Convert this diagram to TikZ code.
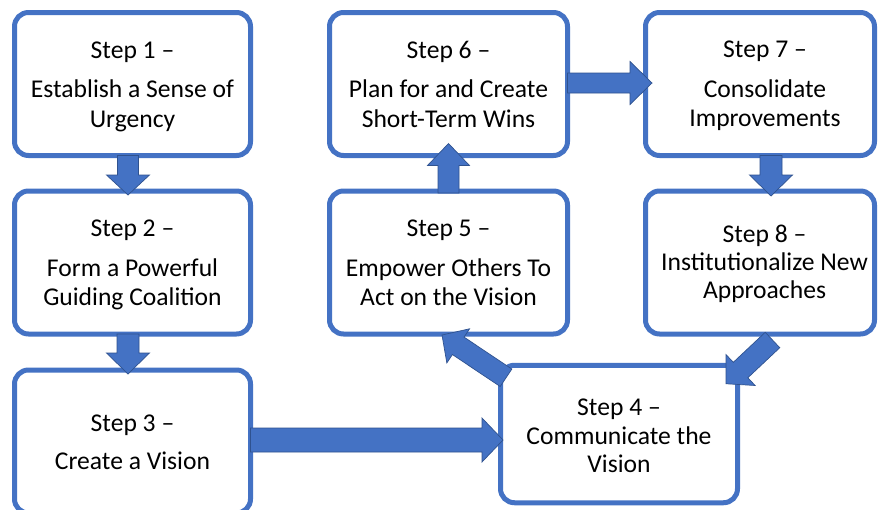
\documentclass[tikz,border=0pt]{standalone}
\usepackage{fontspec}
\setmainfont{Carlito}
\usetikzlibrary{calc}
\definecolor{stepblue}{HTML}{4472C4}
\definecolor{stepdark}{HTML}{2F528F}
\tikzset{
  stepbox/.style={draw=stepblue, line width=5pt, fill=white, rounded corners=14pt,
    inner sep=0pt, outer sep=0pt},
  steptext/.style={inner sep=0pt, outer sep=0pt, align=center,
    font=\fontsize{25.6}{29.5}\selectfont, text=black},
  blockarrow/.style={fill=stepblue, draw=stepdark, line width=0.7pt, line join=miter},
}
% #1 tail, #2 tip, #3 shaft half-width, #4 head half-width, #5 head length
\newcommand\blockarrow[5]{%
  \coordinate (ba-h) at ($(#2)!#5!(#1)$);
  \filldraw[blockarrow]
    ($(#1)!#3!90:(#2)$) -- ($(ba-h)!#3!90:(#2)$) -- ($(ba-h)!#4!90:(#2)$)
    -- (#2)
    -- ($(ba-h)!#4!-90:(#2)$) -- ($(ba-h)!#3!-90:(#2)$) -- ($(#1)!#3!-90:(#2)$) -- cycle;
}
\begin{document}
\begin{tikzpicture}[x=1pt,y=-1pt]
\clip (0,0) rectangle (878,509);
\fill[white] (0,0) rectangle (878,509);

% boxes
\node[stepbox, minimum width=236pt, minimum height=143pt] (b1) at (132.5,84) {};
\node[stepbox, minimum width=236pt, minimum height=143pt] (b2) at (132.5,262.5) {};
\node[stepbox, minimum width=236pt, minimum height=143pt] (b3) at (132.5,441.5) {};
\node[stepbox, minimum width=237pt, minimum height=137.5pt] (b4) at (619,434) {};
\node[stepbox, minimum width=238pt, minimum height=143pt] (b5) at (448.5,262.5) {};
\node[stepbox, minimum width=238pt, minimum height=143pt] (b6) at (448.5,84) {};
\node[stepbox, minimum width=229pt, minimum height=143pt] (b7) at (760,84) {};
\node[stepbox, minimum width=229pt, minimum height=143pt] (b8) at (760,262.5) {};

% texts
\node[steptext] (t1) at ($(b1.center)+(0,2.5)$) {Step 1 –\\[10pt]Establish a Sense of\\Urgency};
\node[steptext] (t2) at ($(b2.center)+(0,2.5)$) {Step 2 –\\[10pt]Form a Powerful\\Guiding Coalition};
\node[steptext] (t3) at ($(b3.center)+(0,1)$) {Step 3 –\\[9pt]Create a Vision};
\node[steptext] (t4) at ($(b4.center)+(0,2)$) {Step 4 –\\[-1pt]Communicate the\\[-1pt]Vision};
\node[steptext] (t5) at ($(b5.center)+(0,0.5)$) {Step 5 –\\[10pt]Empower Others To\\Act on the Vision};
\node[steptext] (t6) at ($(b6.center)+(0,0)$) {Step 6 –\\[10pt]Plan for and Create\\Short-Term Wins};
\node[steptext] (t7) at ($(b7.center)+(5,2)$) {Step 7 –\\[10pt]Consolidate\\Improvements};
\node[steptext] (t8) at ($(b8.center)+(4.5,1.5)$) {Step 8 –\\[-1.5pt]Institutionalize New\\[-1.5pt]Approaches};

% connector end points
\coordinate (a12t) at ($(b1.south)+(-4.5,0)$);
\coordinate (a12h) at ($(b2.north)+(-4.5,4)$);
\coordinate (a23t) at ($(b2.south)+(-4.5,0)$);
\coordinate (a23h) at ($(b3.north)+(-4.5,4)$);
\coordinate (a34t) at ($(b3.east)+(0,-1.5)$);
\coordinate (a34h) at ($(b4.west)+(2.5,6)$);
\coordinate (a45t) at ($(b4.north west)+(5.5,12.5)$);
\coordinate (a45h) at ($(b5.south)+(-6.5,1)$);
\coordinate (a56t) at ($(b5.north)+(0,2)$);
\coordinate (a56h) at ($(b6.south)+(0,-12)$);
\coordinate (a67t) at ($(b6.east)+(0,-1)$);
\coordinate (a67h) at ($(b7.west)+(6.5,-1)$);
\coordinate (a78t) at ($(b7.south)+(11,0)$);
\coordinate (a78h) at ($(b8.north)+(11,5)$);
\coordinate (a84t) at ($(b8.south east)+(-102,6)$);
\coordinate (a84h) at ($(b4.north east)+(-11.5,18.5)$);

\blockarrow{a12t}{a12h}{10.5pt}{21.5pt}{20pt}
\blockarrow{a23t}{a23h}{11pt}{21.5pt}{21pt}
\blockarrow{a34t}{a34h}{12pt}{22pt}{21pt}
\blockarrow{a45t}{a45h}{10.5pt}{20.5pt}{19.5pt}
\blockarrow{a56t}{a56h}{10.5pt}{21pt}{22pt}
\blockarrow{a67t}{a67h}{10pt}{21.5pt}{22pt}
\blockarrow{a78t}{a78h}{11pt}{21.5pt}{21pt}
\blockarrow{a84t}{a84h}{10.6pt}{21.2pt}{20pt}
\end{tikzpicture}
\end{document}
